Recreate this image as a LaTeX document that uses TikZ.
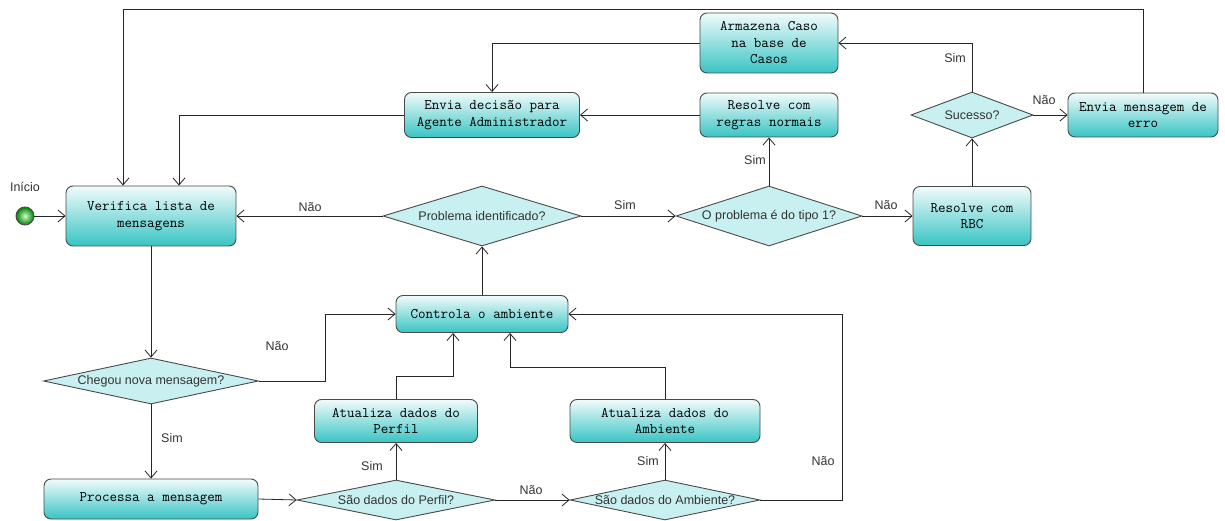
\documentclass[tikz,border=0pt]{standalone}
\usepackage{fontspec}
\setmainfont{Liberation Sans}
\usetikzlibrary{shapes.geometric,arrows.meta}
\definecolor{boxtop}{HTML}{F2FBFB}
\definecolor{boxbot}{HTML}{38C4C4}
\definecolor{decfill}{HTML}{C8F0F0}
\definecolor{edge}{HTML}{4A4A4A}
\definecolor{lbl}{HTML}{333333}
\tikzset{
  actbox/.style={draw=edge, line width=0.9pt, rounded corners=7pt,
    top color=boxtop, bottom color=boxbot, align=center, inner sep=0pt,
    font=\ttfamily\fontsize{14.6}{16.5}\selectfont},
  decbox/.style={diamond, draw=edge, line width=0.9pt, fill=decfill,
    inner sep=0pt, font=\fontsize{12.5}{14}\selectfont, text=lbl},
  flow/.style={draw=black!85, line width=0.8pt,
    -{Straight Barb[length=7pt,width=12pt,line width=0.8pt]}},
  tag/.style={font=\fontsize{12.5}{14}\selectfont, text=lbl, inner sep=0pt}
}
\begin{document}
\begin{tikzpicture}[x=1pt,y=-1pt]
\useasboundingbox (0,0) rectangle (1225,521);

% start state
\node[circle, draw=edge, line width=0.9pt, inner color=green!20!white,
      outer color=green!50!black, minimum size=18pt, inner sep=0pt] (start) at (25,216) {};
\node[tag] (startlbl) at (25,187) {Início};

% activities
\node[actbox, minimum width=170pt, minimum height=60pt] (verif) at (151,216)
  {Verifica lista de\\mensagens};
\node[actbox, minimum width=118pt, minimum height=59pt] (rbc) at (972,216)
  {Resolve com\\RBC};
\node[actbox, minimum width=150pt, minimum height=44pt] (erro) at (1143,115)
  {Envia mensagem de\\erro};
\node[actbox, minimum width=138pt, minimum height=60pt] (arm) at (769,43)
  {Armazena Caso\\na base de\\Casos};
\node[actbox, minimum width=138pt, minimum height=44pt] (regras) at (769,115)
  {Resolve com\\regras normais};
\node[actbox, minimum width=175pt, minimum height=45pt] (envia) at (492,115)
  {Envia decisão para\\Agente Administrador};
\node[actbox, minimum width=172pt, minimum height=37pt] (ctrl) at (482,314)
  {Controla o ambiente};
\node[actbox, minimum width=214pt, minimum height=40pt] (proc) at (151,499)
  {Processa a mensagem};
\node[actbox, minimum width=163pt, minimum height=43pt] (atup) at (396,421)
  {Atualiza dados do\\Perfil};
\node[actbox, minimum width=190pt, minimum height=43pt] (atua) at (665,421)
  {Atualiza dados do\\Ambiente};

% decisions
\node[decbox, shape aspect=3.3, minimum width=198pt, minimum height=60pt] (prob) at (482,216)
  {Problema identificado?};
\node[decbox, shape aspect=3.1, minimum width=186pt, minimum height=60pt] (tipo) at (769,216)
  {O problema é do tipo 1?};
\node[decbox, shape aspect=2.6, minimum width=122pt, minimum height=46pt] (suc) at (972,115)
  {Sucesso?};
\node[decbox, shape aspect=4.7, minimum width=215pt, minimum height=46pt] (cheg) at (151,381)
  {Chegou nova mensagem?};
\node[decbox, shape aspect=4.9, minimum width=198pt, minimum height=40pt] (perf) at (396,500)
  {São dados do Perfil?};
\node[decbox, shape aspect=4.7, minimum width=190pt, minimum height=40pt] (amb) at (665,500)
  {São dados do Ambiente?};

% connectors
\draw[flow] (start) -- (verif.west);
\draw[flow] (verif.south) -- (cheg.north);
\draw[flow] (cheg.south) -- (proc.north);
\draw[flow] (cheg.east) -- ++(66,0) |- (ctrl.west);
\draw[flow] (proc.east) -- (perf.west);
\draw[flow] (perf.north) -- (atup.south);
\draw[flow] (perf.east) -- (amb.west);
\draw[flow] (amb.north) -- (atua.south);
\draw[flow] (amb.east) -- ++(82,0) |- (ctrl.east);
\draw[flow] (atup.north) -- ++(0,-23) -| ([xshift=-29pt]ctrl.south);
\draw[flow] (atua.north) -- ++(0,-32) -| ([xshift=28pt]ctrl.south);
\draw[flow] (ctrl.north) -- (prob.south);
\draw[flow] (prob.west) -- (verif.east);
\draw[flow] (prob.east) -- (tipo.west);
\draw[flow] (tipo.east) -- (rbc.west);
\draw[flow] (tipo.north) -- (regras.south);
\draw[flow] (regras.west) -- (envia.east);
\draw[flow] (envia.west) -| ([xshift=28pt]verif.north);
\draw[flow] (rbc.north) -- (suc.south);
\draw[flow] (suc.north) |- (arm.east);
\draw[flow] (arm.west) -| (envia.north);
\draw[flow] (suc.east) -- (erro.west);
\draw[flow] (erro.north) -- ++(0,-83) -| ([xshift=-28pt]verif.north);

% branch labels
\node[tag] (l1) at (310,207) {Não};
\node[tag] (l2) at (625,205) {Sim};
\node[tag] (l3) at (886,205) {Não};
\node[tag] (l4) at (755,160) {Sim};
\node[tag] (l5) at (955,58) {Sim};
\node[tag] (l6) at (1044,100) {Não};
\node[tag] (l7) at (277,346) {Não};
\node[tag] (l8) at (172,438) {Sim};
\node[tag] (l9) at (372,466) {Sim};
\node[tag] (l10) at (531,490) {Não};
\node[tag] (l11) at (648,461) {Sim};
\node[tag] (l12) at (823,461) {Não};
\end{tikzpicture}
\end{document}
